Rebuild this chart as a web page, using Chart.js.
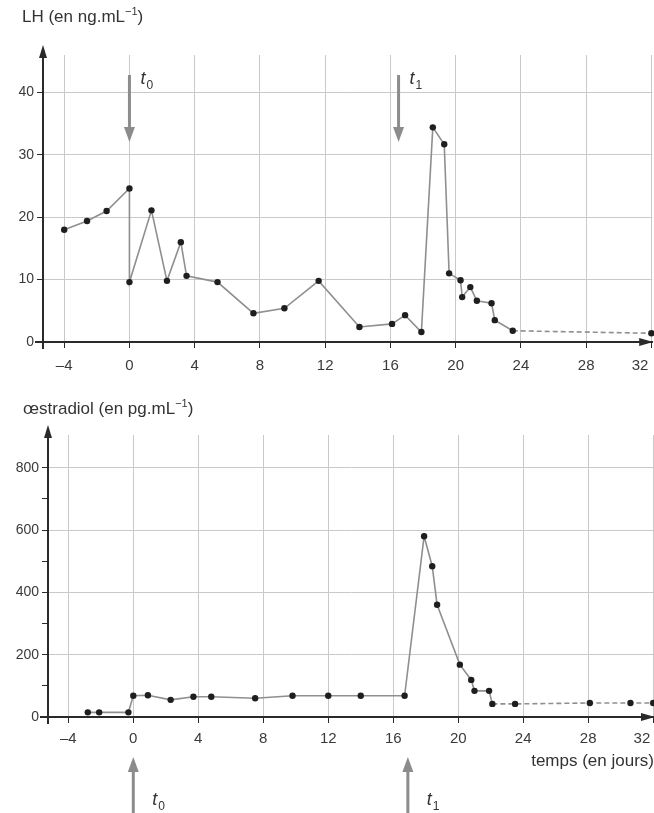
<!DOCTYPE html>
<html>
<head>
<meta charset="utf-8">
<script src="https://cdn.jsdelivr.net/npm/chart.js@4.4.0/dist/chart.umd.min.js"></script>
<style>
html, body { margin: 0; padding: 0; background: #fff; overflow: hidden; }
#page { position: relative; width: 654px; height: 813px; overflow: hidden; font-family: "Liberation Sans", Arial, sans-serif; }
.box { position: absolute; left: 0; width: 680px; }
.ttl { position: absolute; font-size: 17px; color: #333; white-space: nowrap; }
.ttl sup { font-size: 11px; vertical-align: 7px; line-height: 0; }
</style>
</head>
<body>
<div id="page">
    <div class="box" style="top:0; height:380px;"><canvas id="lhChart"></canvas></div>
    <div class="box" style="top:395px; height:418px;"><canvas id="estChart"></canvas></div>
    <div class="ttl" style="left:22px; top:7px;">LH (en ng.mL<sup>−1</sup>)</div>
    <div class="ttl" style="left:23px; top:399px;">œstradiol (en pg.mL<sup>−1</sup>)</div>
</div>
<script>
// ===== DATA =====
const dayTicks = [-4, 0, 4, 8, 12, 16, 20, 24, 28, 32];

// LH (ng/mL)
const lhDays   = [-4, -2.6, -1.4, 0, 0, 1.35, 2.3, 3.15, 3.5, 5.4, 7.6, 9.5, 11.6, 14.1, 16.1, 16.9, 17.9, 18.6, 19.3, 19.6, 20.3, 20.4, 20.9, 21.3, 22.2, 22.4, 23.5, 32];
const lhValues = [18, 19.4, 21, 24.6, 9.6, 21.1, 9.8, 16, 10.6, 9.6, 4.6, 5.4, 9.8, 2.4, 2.9, 4.3, 1.6, 34.4, 31.7, 11, 9.9, 7.2, 8.8, 6.6, 6.2, 3.5, 1.8, 1.4];
const lhTicks  = [0, 10, 20, 30, 40];

// oestradiol (pg/mL)
const estDays   = [-2.8, -2.1, -0.3, 0, 0.9, 2.3, 3.7, 4.8, 7.5, 9.8, 12, 14, 16.7, 17.9, 18.4, 18.7, 20.1, 20.8, 21, 21.9, 22.1, 23.5, 28.1, 30.6, 32];
const estValues = [15, 15, 15, 68, 70, 55, 65, 65, 60, 68, 68, 68, 68, 580, 484, 360, 168, 119, 84, 84, 42, 42, 45, 45, 45];
const estTicks  = [0, 100, 200, 300, 400, 500, 600, 700, 800];
const estLabels = [0, 200, 400, 600, 800];

// events t0 / t1
const markerNames   = ['0', '1'];
const lhMarkerDays  = [0, 16.5];
const estMarkerDays = [0, 16.9];

const axisColor = '#2a2a2a';
const gridColor = '#c9c9c9';
const textColor = '#3a3a3a';

// ===== DRAWING HELPERS =====
function drawArrow(ctx, x, yFrom, yTo) {
    const dir = yTo > yFrom ? 1 : -1;
    const headLen = 15;
    ctx.strokeStyle = '#8c8c8c';
    ctx.fillStyle = '#8c8c8c';
    ctx.lineWidth = 3;
    ctx.beginPath();
    ctx.moveTo(x, yFrom);
    ctx.lineTo(x, yTo - dir * headLen);
    ctx.stroke();
    ctx.beginPath();
    ctx.moveTo(x, yTo);
    ctx.lineTo(x - 5.5, yTo - dir * headLen);
    ctx.lineTo(x + 5.5, yTo - dir * headLen);
    ctx.closePath();
    ctx.fill();
}

const overlayPlugin = {
    id: 'overlay',
    afterDraw(chart, args, opts) {
        const { ctx, chartArea: a } = chart;
        const x = chart.scales.x;
        ctx.save();
        // axis arrow heads + small overhang past the origin
        ctx.fillStyle = axisColor;
        ctx.fillRect(a.left - 1, a.bottom, 2, 7);
        ctx.fillRect(a.left - 8, a.bottom - 1, 8, 2);
        ctx.beginPath();
        ctx.moveTo(a.left, a.top - 10);
        ctx.lineTo(a.left - 4, a.top + 3);
        ctx.lineTo(a.left + 4, a.top + 3);
        ctx.fill();
        ctx.beginPath();
        ctx.moveTo(a.right + 1, a.bottom);
        ctx.lineTo(a.right - 13, a.bottom - 4);
        ctx.lineTo(a.right - 13, a.bottom + 4);
        ctx.fill();
        // t0 / t1 arrows
        opts.days.forEach((d, i) => {
            const px = x.getPixelForValue(d);
            drawArrow(ctx, px, opts.from, opts.to);
            ctx.fillStyle = '#333';
            ctx.textBaseline = 'alphabetic';
            ctx.font = 'italic 18px "Liberation Sans", Arial, sans-serif';
            ctx.fillText('t', px + opts.dx, opts.labelY);
            ctx.font = '12px "Liberation Sans", Arial, sans-serif';
            ctx.fillText(markerNames[i], px + opts.dx + 6, opts.labelY + 5);
        });
        ctx.restore();
    }
};

function dayLabel(v) {
    if (v < 0) return '–' + Math.abs(v);
    // last label sits against the right edge, nudge it inwards
    if (v === dayTicks[dayTicks.length - 1]) return v + '\u2003\u2002';
    return String(v);
}

function makeChart(id, cfg) {
    const ctx = document.getElementById(id);
    return new Chart(ctx, {
        type: 'line',
        data: {
            datasets: [{
                data: cfg.days.map((d, i) => ({ x: d, y: cfg.values[i] })),
                borderColor: '#8f8f8f',
                borderWidth: 1.6,
                pointRadius: 3.2,
                pointBackgroundColor: '#1e1e1e',
                pointBorderWidth: 0,
                tension: 0,
                clip: false,
                segment: {
                    borderDash: c => c.p0.parsed.x >= cfg.dashFrom ? [5, 3] : undefined
                }
            }]
        },
        options: {
            responsive: true,
            maintainAspectRatio: false,
            animation: false,
            layout: { padding: { top: cfg.padTop, right: 26, left: 0, bottom: 0 } },
            plugins: {
                legend: { display: false },
                tooltip: { enabled: false },
                overlay: cfg.overlay
            },
            scales: {
                x: {
                    type: 'linear',
                    min: cfg.xMin,
                    max: 32.05,
                    afterBuildTicks: s => { s.ticks = dayTicks.map(v => ({ value: v })); },
                    afterFit: s => { s.height = cfg.xHeight; },
                    ticks: {
                        autoSkip: false,
                        maxRotation: 0,
                        padding: cfg.xPad,
                        color: textColor,
                        font: { family: '"Liberation Sans", Arial, sans-serif', size: 15 },
                        callback: dayLabel
                    },
                    grid: { color: gridColor, lineWidth: 1, tickColor: axisColor, tickLength: 6 },
                    border: { color: axisColor, width: 2 },
                    title: cfg.xTitle
                },
                y: {
                    min: 0,
                    max: cfg.yMax,
                    afterBuildTicks: s => { s.ticks = cfg.yTicks.map(v => ({ value: v })); },
                    afterFit: s => { s.width = cfg.yWidth; },
                    ticks: {
                        autoSkip: false,
                        padding: 3,
                        color: textColor,
                        font: { family: '"Liberation Sans", Arial, sans-serif', size: 14 },
                        callback: v => cfg.yLabels.includes(v) ? String(v) : ''
                    },
                    grid: {
                        color: c => (c.tick && c.tick.value !== 0 && cfg.yLabels.includes(c.tick.value)) ? gridColor : 'rgba(0,0,0,0)',
                        tickColor: axisColor,
                        tickLength: 6
                    },
                    border: { color: axisColor, width: 2 }
                }
            }
        },
        plugins: [overlayPlugin]
    });
}

makeChart('lhChart', {
    days: lhDays,
    values: lhValues,
    yTicks: lhTicks,
    yLabels: lhTicks,
    yMax: 46,
    xMin: -5.3,
    padTop: 55,
    xHeight: 38,
    xPad: 9,
    yWidth: 43,
    dashFrom: 23.5,
    xTitle: { display: false },
    overlay: { days: lhMarkerDays, from: 75, to: 142, dx: 11, labelY: 84 }
});

makeChart('estChart', {
    days: estDays,
    values: estValues,
    yTicks: estTicks,
    yLabels: estLabels,
    yMax: 905,
    xMin: -5.25,
    padTop: 40,
    xHeight: 96,
    xPad: 7,
    yWidth: 48,
    dashFrom: 22.1,
    xTitle: {
        display: true,
        text: 'temps (en jours)',
        align: 'end',
        color: '#333',
        font: { family: '"Liberation Sans", Arial, sans-serif', size: 17 },
        padding: { top: 0, bottom: 41 }
    },
    overlay: { days: estMarkerDays, from: 418, to: 362, dx: 19, labelY: 410 }
});
</script>
</body>
</html>
